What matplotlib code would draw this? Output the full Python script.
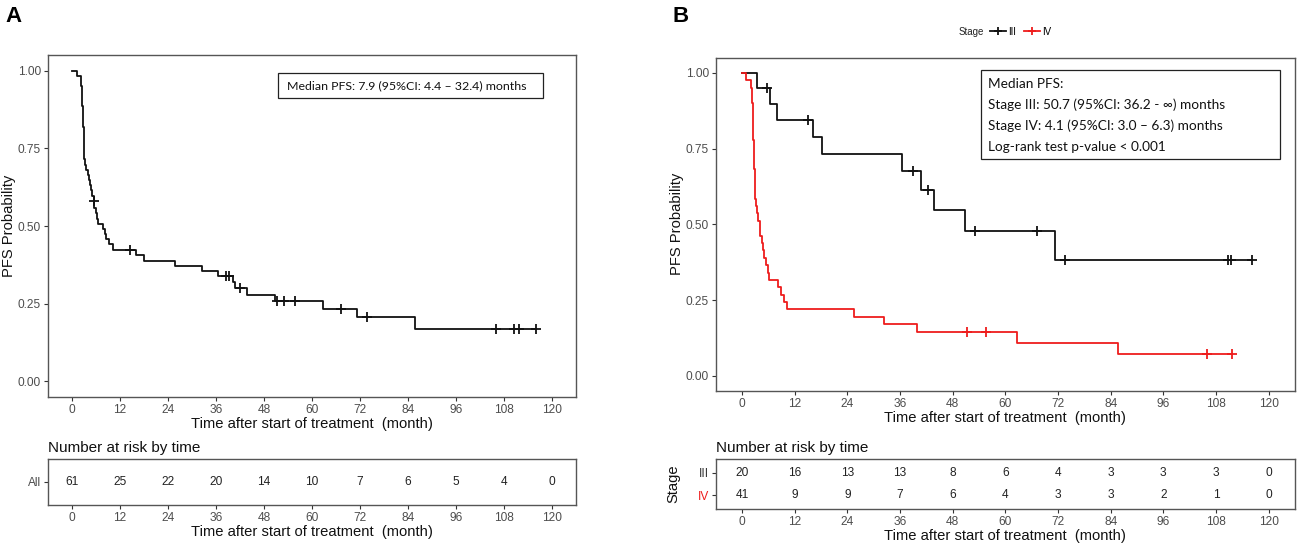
import numpy as np
import matplotlib
matplotlib.use("Agg")
import matplotlib.pyplot as plt
from matplotlib.lines import Line2D
from matplotlib.patches import Rectangle

plt.rcParams['font.family'] = ['Liberation Sans', 'DejaVu Sans']

# Panel A: all patients (step times in months, PFS after each step)
time_a = [0, 1.2, 2.3, 2.45, 2.6, 2.7, 2.8, 2.9, 3.0, 3.1, 3.3, 3.6, 3.9, 4.2, 4.5,
          4.8, 5.1, 5.4, 5.6, 5.9, 6.2, 6.5, 7.7, 8.2, 8.6, 9.2, 10.2, 16.0, 18.0,
          25.8, 32.6, 36.5, 40.3, 40.8, 43.8, 50.9, 62.8, 71.3, 85.8]
surv_a = [1.0, 0.984, 0.951, 0.918, 0.885, 0.852, 0.820, 0.787, 0.754, 0.714, 0.697,
          0.680, 0.664, 0.648, 0.631, 0.615, 0.598, 0.582, 0.557, 0.541, 0.524, 0.508,
          0.491, 0.474, 0.457, 0.441, 0.424, 0.407, 0.389, 0.372, 0.355, 0.338, 0.319,
          0.300, 0.278, 0.258, 0.234, 0.207, 0.169]
cens_a = [5.5, 14.6, 38.6, 39.2, 42.0, 51.2, 53.1, 55.8, 67.3, 73.7, 106.1, 110.5,
          111.7, 116.1]

# Panel B: stage III and stage IV
time_3 = [0, 3.4, 6.3, 8.0, 16.2, 18.3, 36.4, 40.8, 43.8, 50.9, 71.4]
surv_3 = [1.0, 0.95, 0.897, 0.844, 0.788, 0.732, 0.676, 0.614, 0.548, 0.478, 0.383]
cens_3 = [5.7, 15.0, 39.0, 42.3, 53.0, 67.3, 73.7, 110.7, 111.5, 116.1]

time_4 = [0, 0.8, 2.0, 2.2, 2.3, 2.4, 2.45, 2.5, 2.55, 2.6, 2.65, 2.7, 2.75, 2.8,
          2.85, 2.9, 2.95, 3.0, 3.1, 3.4, 3.7, 4.0, 4.2, 4.5, 4.8, 5.1, 5.5, 5.9,
          6.2, 8.1, 8.8, 9.5, 10.3, 25.6, 32.4, 39.9, 62.6, 85.6]
surv_4 = [1.0, 0.976, 0.951, 0.927, 0.902, 0.878, 0.854, 0.829, 0.805, 0.780, 0.756,
          0.732, 0.707, 0.683, 0.659, 0.634, 0.610, 0.585, 0.561, 0.537, 0.512, 0.488,
          0.463, 0.439, 0.415, 0.390, 0.366, 0.341, 0.317, 0.293, 0.268, 0.244, 0.220,
          0.195, 0.171, 0.146, 0.110, 0.073]
cens_4 = [51.3, 55.6, 106.0, 111.7]

# number at risk
risk_times = [0, 12, 24, 36, 48, 60, 72, 84, 96, 108, 120]
risk_all = [61, 25, 22, 20, 14, 10, 7, 6, 5, 4, 0]
risk_3 = [20, 16, 13, 13, 8, 6, 4, 3, 3, 3, 0]
risk_4 = [41, 9, 9, 7, 6, 4, 3, 3, 2, 1, 0]

box_a = "Median PFS: 7.9 (95%CI: 4.4 \u2013 32.4) months"
box_b = ["Median PFS:",
         "Stage III: 50.7 (95%CI: 36.2 - \u221e) months",
         "Stage IV: 4.1 (95%CI: 3.0 \u2013 6.3) months",
         "Log-rank test p-value < 0.001"]

BLACK = '#111111'
RED = '#EE1C1C'
W, H = 1299, 547


def fa(l, t, r, b):
    return [l / W, 1 - b / H, (r - l) / W, (b - t) / H]


def style(ax):
    for sp in ax.spines.values():
        sp.set_color('#555555')
        sp.set_linewidth(1.0)
    ax.tick_params(colors='#333333', labelcolor='#4d4d4d', length=3, width=0.8,
                   labelsize=8.6, pad=2)
    ax.set_xlim(-6, 126)
    ax.set_xticks(risk_times)


def km(ax, t, s, cens, color):
    tt = list(t) + [cens[-1]]
    ss = list(s) + [s[-1]]
    ax.step(tt, ss, where='post', color=color, lw=1.3)
    idx = np.searchsorted(t, cens, side='right') - 1
    ax.plot(cens, np.array(s)[idx], ls='none', marker='+', ms=7, mew=1.3, color=color)


def main_axes(ax):
    style(ax)
    ax.set_ylim(-0.05, 1.05)
    ax.set_yticks([0, 0.25, 0.5, 0.75, 1.0])
    ax.set_yticklabels(['0.00', '0.25', '0.50', '0.75', '1.00'])
    ax.set_xlabel('Time after start of treatment  (month)', fontsize=10.6, labelpad=1,
                  color='#111111')
    ax.set_ylabel('PFS Probability', fontsize=10.6, labelpad=1.5, color='#111111')


def risk_axes(ax):
    style(ax)
    ax.set_title('Number at risk by time', loc='left', fontsize=11, pad=5, color='#111111')
    ax.set_xlabel('Time after start of treatment  (month)', fontsize=10.6, labelpad=1,
                  color='#111111')


fig = plt.figure(figsize=(W / 100, H / 100), dpi=100)

# ---- Panel A
axA = fig.add_axes(fa(48, 55, 575.7, 397))
km(axA, time_a, surv_a, cens_a, BLACK)
main_axes(axA)

rtA = fig.add_axes(fa(48, 459, 575.7, 505))
risk_axes(rtA)
rtA.set_ylim(0, 1)
rtA.set_yticks([0.5])
rtA.set_yticklabels(['All'])
for x, n in zip(risk_times, risk_all):
    rtA.text(x, 0.5, str(n), ha='center', va='center', fontsize=8.6, color='#222222')

fig.add_artist(Rectangle((278 / W, 1 - 98 / H), 265 / W, 25 / H, transform=fig.transFigure,
                         fill=False, lw=0.9, ec='#222222'))
fig.text(287 / W, 1 - 86 / H, box_a, ha='left', va='center', fontsize=8.9,
         family=['Lato', 'DejaVu Sans'], color='#111111')

# ---- Panel B
axB = fig.add_axes(fa(715.7, 57.7, 1295, 391))
km(axB, time_3, surv_3, cens_3, BLACK)
km(axB, time_4, surv_4, cens_4, RED)
main_axes(axB)

rtB = fig.add_axes(fa(715.7, 459, 1295, 509))
risk_axes(rtB)
rtB.set_ylim(0.4, 2.6)
rtB.set_yticks([2, 1])
rtB.set_yticklabels(['III', 'IV'])
rtB.get_yticklabels()[0].set_color('#333333')
rtB.get_yticklabels()[1].set_color(RED)
rtB.set_ylabel('Stage', fontsize=10.6, labelpad=12, color='#111111')
for x, a, b in zip(risk_times, risk_3, risk_4):
    rtB.text(x, 2, str(a), ha='center', va='center', fontsize=8.6, color='#222222')
    rtB.text(x, 1, str(b), ha='center', va='center', fontsize=8.6, color='#222222')

fig.add_artist(Rectangle((980.7 / W, 1 - 159.3 / H), 299.3 / W, 89.3 / H,
                         transform=fig.transFigure, fill=False, lw=0.9, ec='#222222'))
for yy, line in zip([84, 105, 126, 146.7], box_b):
    fig.text(988 / W, 1 - yy / H, line, ha='left', va='center', fontsize=9.8,
             family=['Lato', 'DejaVu Sans'], color='#111111')

# legend on top of panel B
fig.text(959 / W, 1 - 31.7 / H, 'Stage', ha='left', va='center', fontsize=7, color='#222222')
handles = [Line2D([], [], color=BLACK, lw=1.3, marker='+', ms=6, mew=1.3),
           Line2D([], [], color=RED, lw=1.3, marker='+', ms=6, mew=1.3)]
fig.legend(handles, ['III', 'IV'], loc='center left', bbox_to_anchor=(990 / W, 1 - 31.7 / H),
           ncol=2, frameon=False, fontsize=7, handlelength=1.6, handletextpad=0.3,
           columnspacing=0.8, borderpad=0, borderaxespad=0)

fig.text(5 / W, 1 - 17 / H, 'A', fontsize=16, fontweight='bold', va='center', ha='left')
fig.text(672 / W, 1 - 17 / H, 'B', fontsize=16, fontweight='bold', va='center', ha='left')

fig.savefig('out.png', dpi=100)
